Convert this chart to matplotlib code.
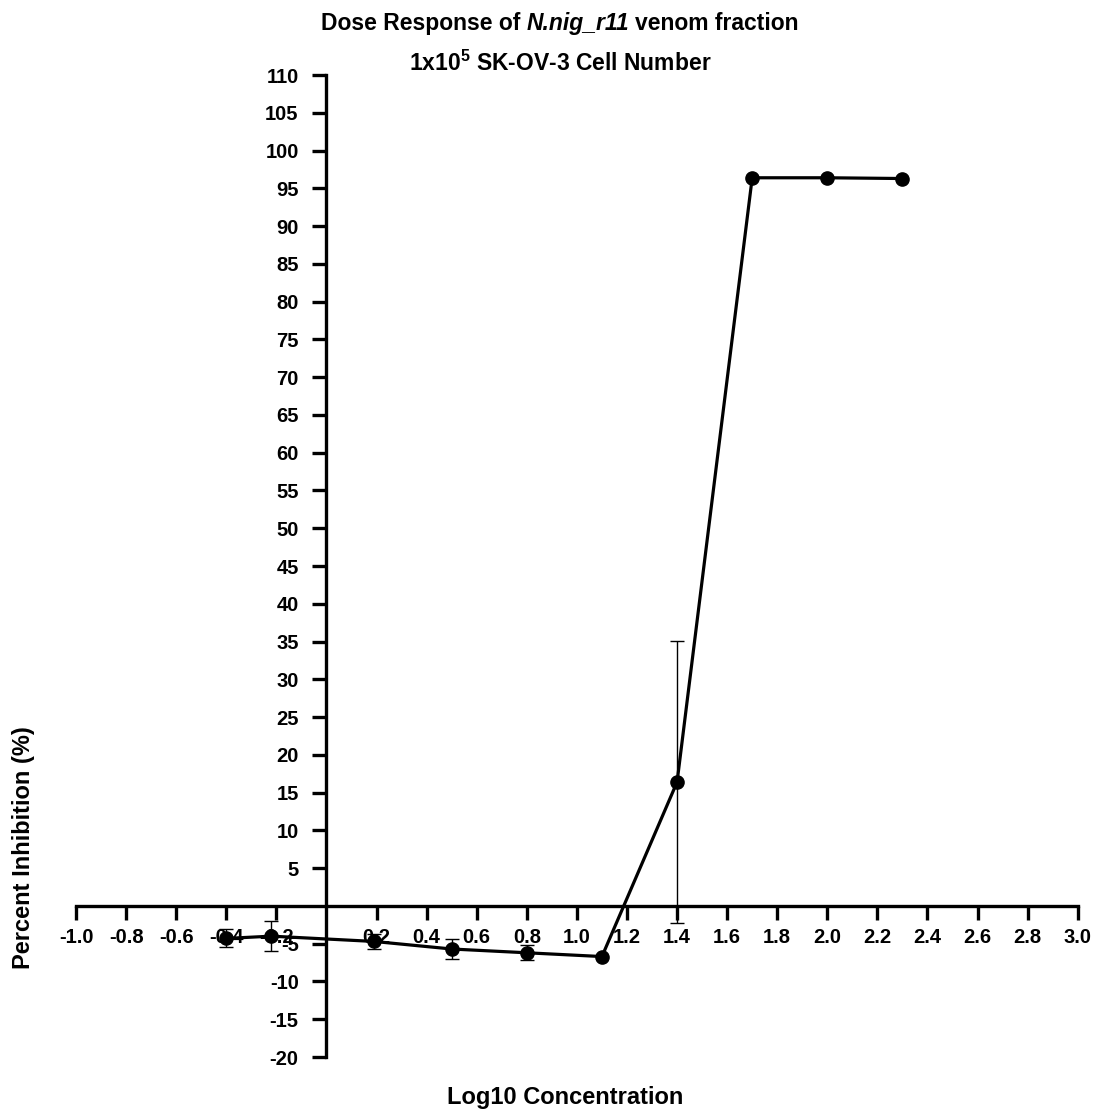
import numpy as np
import matplotlib
matplotlib.use('Agg')
import matplotlib.pyplot as plt

plt.rcParams['font.family'] = ['Liberation Sans', 'DejaVu Sans']
plt.rcParams['font.weight'] = 'bold'
plt.rcParams['mathtext.fontset'] = 'custom'
plt.rcParams['mathtext.rm'] = 'Liberation Sans:bold'
plt.rcParams['mathtext.bf'] = 'Liberation Sans:bold'
plt.rcParams['mathtext.it'] = 'Liberation Sans:italic:bold'

# data
log_conc = [-0.40, -0.22, 0.19, 0.50, 0.80, 1.10, 1.40, 1.70, 2.00, 2.30]
inhibition = [-4.3, -4.0, -4.7, -5.7, -6.2, -6.7, 16.4, 96.4, 96.4, 96.3]
sd = [1.2, 2.0, 1.0, 1.3, 1.0, 0.0, 18.7, 0.0, 0.0, 0.0]

x_ticks = [round(v, 1) for v in np.arange(-1.0, 3.01, 0.2) if abs(v) > 1e-9]
y_ticks = [v for v in range(-20, 111, 5) if v != 0]

fig = plt.figure(figsize=(11.02, 11.15), dpi=100)
ax = fig.add_axes([0.069, 0.052, 0.909, 0.8807])

x = np.array(log_conc)
y = np.array(inhibition)
e = np.array(sd)
has_err = e > 0

ax.errorbar(x[has_err], y[has_err], yerr=e[has_err], fmt='none', ecolor='black',
            elinewidth=1.0, capsize=4.7, capthick=1.0, zorder=3)
ax.plot(x, y, '-o', color='black', lw=2.3, ms=9.5, zorder=4, clip_on=False)

ax.set_xlim(-1.0, 3.0)
ax.set_ylim(-20, 110)
for s in ['top', 'right']:
    ax.spines[s].set_visible(False)
ax.spines['left'].set_position(('data', 0))
ax.spines['bottom'].set_position(('data', 0))
for s in ['left', 'bottom']:
    ax.spines[s].set_linewidth(2.4)

ax.set_xticks(x_ticks)
ax.set_xticklabels([f'{v:.1f}' for v in x_ticks])
ax.set_yticks(y_ticks)
ax.set_yticklabels([str(v) for v in y_ticks])
ax.tick_params(axis='both', direction='out', length=10, width=2.4, labelsize=14.5)
ax.tick_params(axis='y', pad=10)
ax.tick_params(axis='x', pad=6)


def centered_line(xc, yc, pieces, size):
    # pieces: (text, fontstyle); spaces between pieces are added by measuring
    r = fig.canvas.get_renderer()
    probe1 = fig.text(0, 0, 'x x', fontsize=size, fontweight='bold')
    probe2 = fig.text(0, 0, 'xx', fontsize=size, fontweight='bold')
    space = probe1.get_window_extent(r).width - probe2.get_window_extent(r).width
    probe1.remove()
    probe2.remove()
    texts = [fig.text(0, yc, s, fontsize=size, fontweight='bold', fontstyle=st,
                      ha='left', va='center') for s, st in pieces]
    widths = [t.get_window_extent(r).width for t in texts]
    total = sum(widths) + space * (len(texts) - 1)
    px = xc * fig.bbox.width - total / 2
    for t, w in zip(texts, widths):
        t.set_x(px / fig.bbox.width)
        px += w + space


fig.canvas.draw()
centered_line(0.508, 0.979, [('Dose Response of', 'normal'), ('N.nig_r11', 'italic'),
                             ('venom fraction', 'normal')], 16.5)
fig.text(0.508, 0.943, r'1x10$^{\mathrm{5}}$ SK-OV-3 Cell Number',
         ha='center', va='center', fontsize=16.5, fontweight='bold')
fig.text(0.513, 0.0161, 'Log10 Concentration', ha='center', va='center',
         fontsize=17, fontweight='bold')
fig.text(0.021, 0.24, 'Percent Inhibition (%)', ha='center', va='center',
         rotation=90, fontsize=17, fontweight='bold')

fig.savefig('out.png', dpi=100)
